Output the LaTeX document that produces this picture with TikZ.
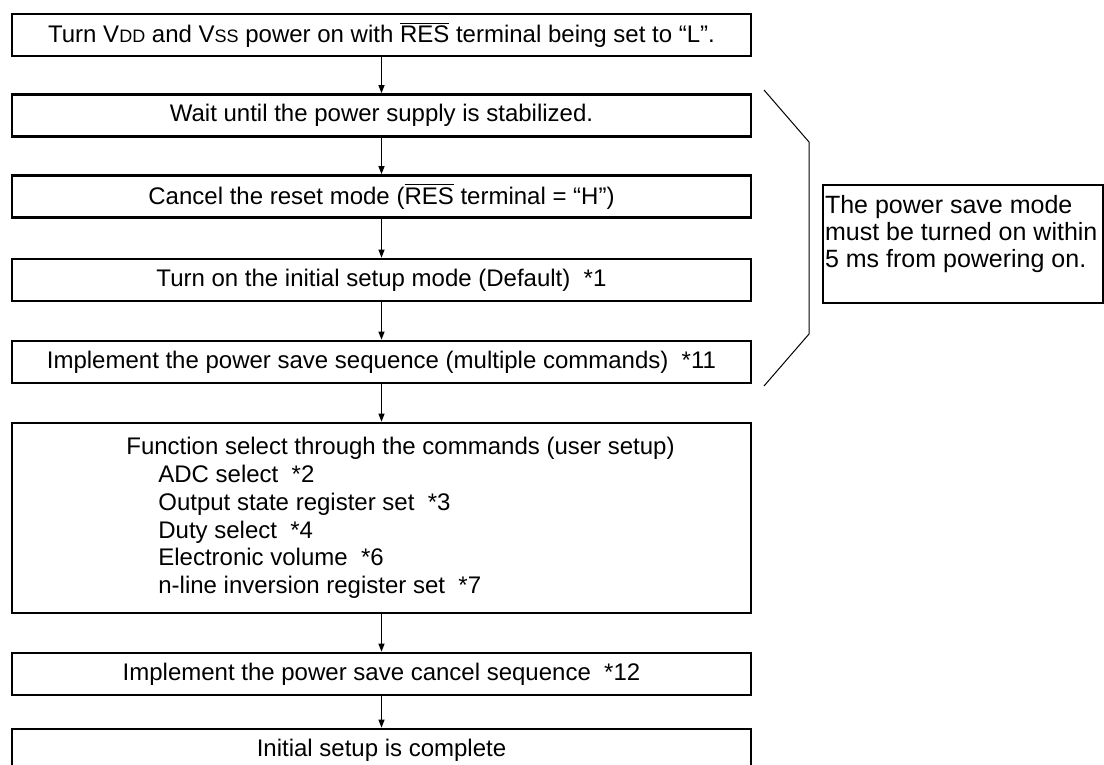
\documentclass[tikz,border=0pt]{standalone}
\usepackage{fontspec}
\setmainfont{Liberation Sans}
\usetikzlibrary{arrows.meta}

\newcommand{\lowcaps}[1]{{\fontsize{9}{9}\selectfont #1}}
\newcommand{\resbar}{$\overline{\mbox{RES}}$}

\begin{document}
\begin{tikzpicture}[x=0.5pt,y=-0.5pt,
    stepbox/.style={draw,line width=1.35pt,minimum width=369.5pt,minimum height=21pt,
      inner sep=0pt,font=\fontsize{12}{13.85}\selectfont},
    notetext/.style={inner sep=0pt,align=left,font=\fontsize{12.5}{13.5}\selectfont},
    flow/.style={->,>={Triangle[length=4pt,width=3pt]},line width=0.5pt}]
  \useasboundingbox (0,0) rectangle (1104,765);

  % Main sequence
  \node[stepbox] (poweron) at (381.5,35)
    {Turn V\lowcaps{DD} and V\lowcaps{SS} power on with \resbar\ terminal being set to “L”.};
  \node[stepbox] (wait) at (381.5,115.5) {Wait until the power supply is stabilized.};
  \node[stepbox] (cancel) at (381.5,196.5) {Cancel the reset mode (\resbar\ terminal = “H”)};
  \node[stepbox] (initmode) at (381.5,280) {Turn on the initial setup mode (Default)~~*1};
  \node[stepbox] (saveseq) at (381.5,362)
    {Implement the power save sequence (multiple commands)~~*11};
  \node[stepbox, minimum height=95pt, align=left] (usersetup) at (381.5,518)
    {\hspace*{19pt}Function select through the commands (user setup)\\
     \hspace*{35pt}ADC select~~*2\\
     \hspace*{35pt}Output state register set~~*3\\
     \hspace*{35pt}Duty select~~*4\\
     \hspace*{35pt}Electronic volume~~*6\\
     \hspace*{35pt}n-line inversion register set~~*7};
  \node[stepbox] (cancelseq) at (381.5,674) {Implement the power save cancel sequence~~*12};
  \node[stepbox] (done) at (381.5,750) {Initial setup is complete};

  \draw[flow] (poweron) -- (wait);
  \draw[flow] (wait) -- (cancel);
  \draw[flow] (cancel) -- (initmode);
  \draw[flow] (initmode) -- (saveseq);
  \draw[flow] (saveseq) -- (usersetup);
  \draw[flow] (usersetup) -- (cancelseq);
  \draw[flow] (cancelseq) -- (done);

  % Bracket and timing note on the right
  \draw[line width=0.5pt] (764,90) -- (809,142) -- (809,334) -- (764,386);
  \node[stepbox, minimum width=140pt, minimum height=59pt] (note) at (963,244) {};
  \node[notetext, anchor=north west] (notetxt) at ([xshift=1.5pt,yshift=-5.5pt]note.north west)
    {The power save mode\\must be turned on within\\5 ms from powering on.};
\end{tikzpicture}
\end{document}
